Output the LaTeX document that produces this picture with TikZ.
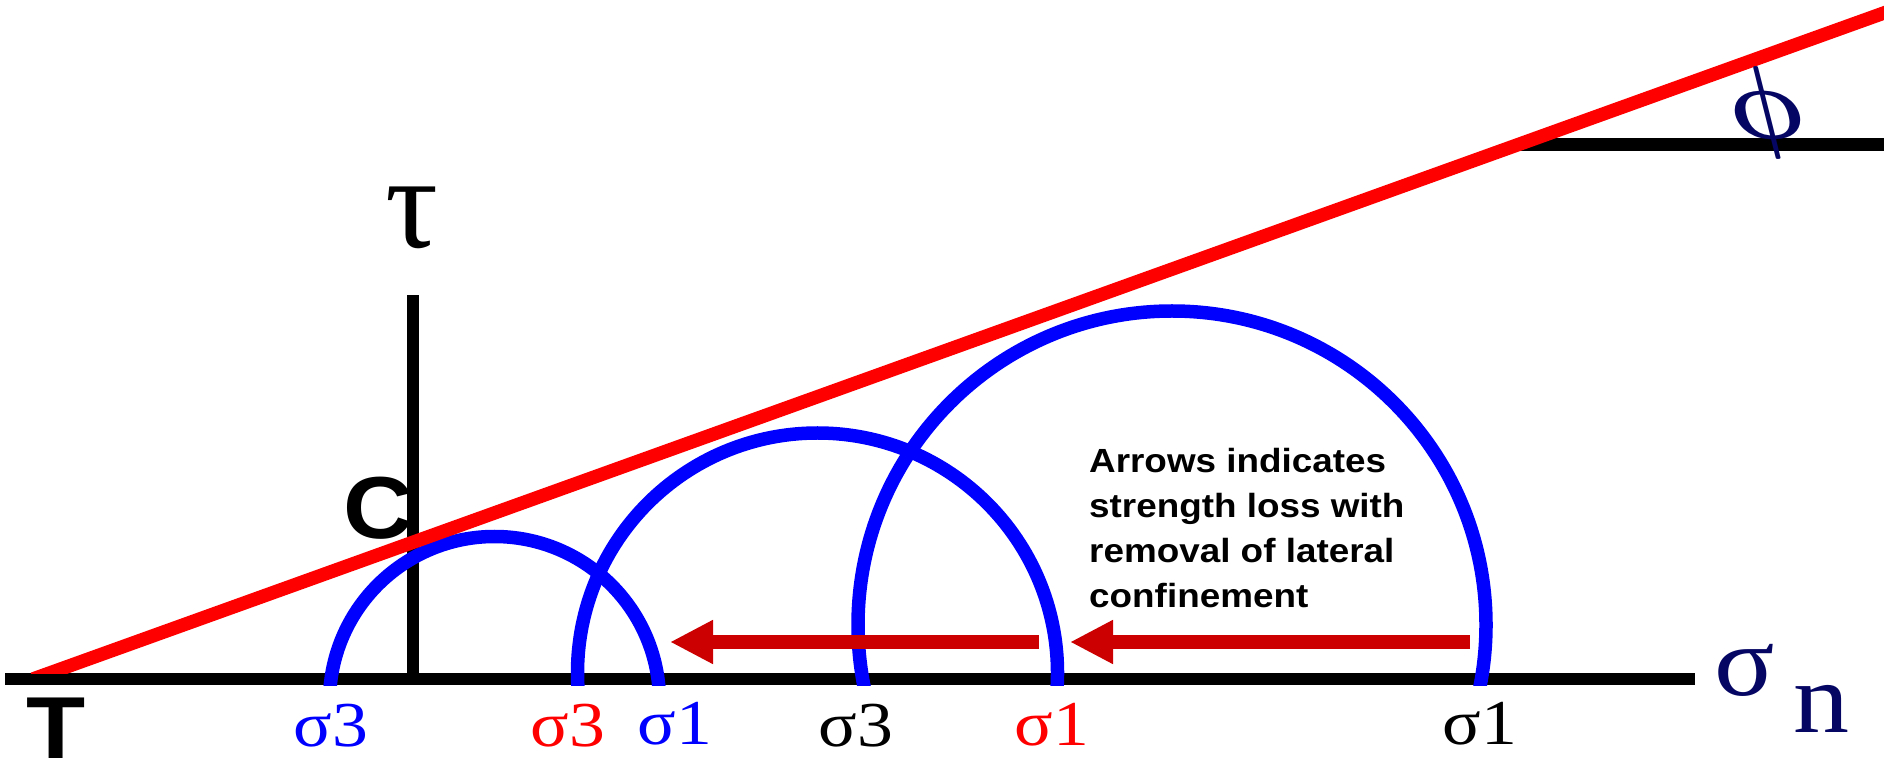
\documentclass[tikz,border=0pt]{standalone}
\usepackage{fontspec}
\usepackage{xcolor}
\usepackage{graphicx}
\usepackage{tikz}
\usetikzlibrary{arrows.meta, positioning}
\newfontfamily\greekfont{Liberation Serif}
\newfontfamily\sigfont[FakeStretch=1.12]{Liberation Serif}
\newfontfamily\notefont[FakeStretch=1.1]{Liberation Sans}
\definecolor{mohrblue}{RGB}{0,0,255}
\definecolor{envred}{RGB}{255,0,0}
\definecolor{lossred}{RGB}{204,0,0}
\definecolor{navyink}{RGB}{5,5,100}

\begin{document}
\begin{tikzpicture}[
  x=1pt, y=1pt,
  axisline/.style={line width=12.5pt},
  mohr/.style={draw=mohrblue, line width=13.5pt},
  envelope/.style={envred, line width=13.5pt},
  loss/.style={lossred, line width=14pt, -{Triangle[length=43pt, width=41pt]}},
  sig/.style={inner sep=0pt, anchor=base, font=\sigfont\fontsize{64}{64}\selectfont},
  big/.style={inner sep=0pt, font=\notefont\bfseries\fontsize{88}{88}\selectfont},
  axislab/.style={inner sep=0pt, text=navyink, font=\sigfont\fontsize{100}{100}\selectfont}
]
\clip (0,0) rectangle (1884,758);

\coordinate (o) at (413,79);
\coordinate (sn0) at (5,79);
\coordinate (sn1) at (1695,79);
\coordinate (tau1) at (413,463);
\coordinate (t0) at (33,79);
\coordinate (t1) at (1900,750.8);
\coordinate (phi0) at (1517,613.3);
\coordinate (phi1) at (1890,613.3);

\draw[axisline] (sn0) -- (sn1);
\draw[axisline] (o) -- (tau1);
\draw[axisline] (phi0) -- (phi1);

\begin{scope}
  \clip (0,73) rectangle (1884,758);
  \draw[mohr] (494.5,56.5) circle[radius=165];
  \draw[mohr] (817.5,85) circle[radius=240];
  \draw[mohr] (1172,133) circle[radius=314];
\end{scope}

\begin{scope}
  \clip (0,85) rectangle (1884,758);
  \draw[envelope] (t0) -- (t1);
\end{scope}

\node[big, anchor=base east] (c) at (414,219) {C};
\node[big, anchor=base] (t) at (56,0) {T};
\node[inner sep=0pt, anchor=base, font=\greekfont\fontsize{132}{132}\selectfont] (tau) at (412,510) {τ};
\node[axislab, anchor=base west] (sn) at (1714,63) {σ};
\node[axislab, anchor=base west] (snsub) at (1793,26) {n};
\node[inner sep=0pt, text=navyink] (phi) at (1770,645) {\reflectbox{\scalebox{5}{\fontsize{20}{20}\selectfont\boldmath$\phi$}}};

\node[sig, text=mohrblue] (s3a) at (331,12) {σ3};
\node[sig, text=envred] (s3b) at (568,12) {σ3};
\node[sig, text=mohrblue] (s1a) at (675,14) {σ1};
\node[sig] (s3c) at (856,12) {σ3};
\node[sig, text=envred] (s1b) at (1052,13) {σ1};
\node[sig] (s1c) at (1480,14) {σ1};

\coordinate (a1s) at (1039,116);
\coordinate (a1e) at (670,116);
\coordinate (a2s) at (1470,116);
\coordinate (a2e) at (1070,116);
\draw[loss] (a1s) -- (a1e);
\draw[loss] (a2s) -- (a2e);

\node[anchor=north west, inner sep=0pt, align=left, font=\notefont\bfseries\fontsize{33.5}{45}\selectfont] (note) at (1089,310) {Arrows indicates\\strength loss with\\removal of lateral\\confinement};
\end{tikzpicture}
\end{document}
